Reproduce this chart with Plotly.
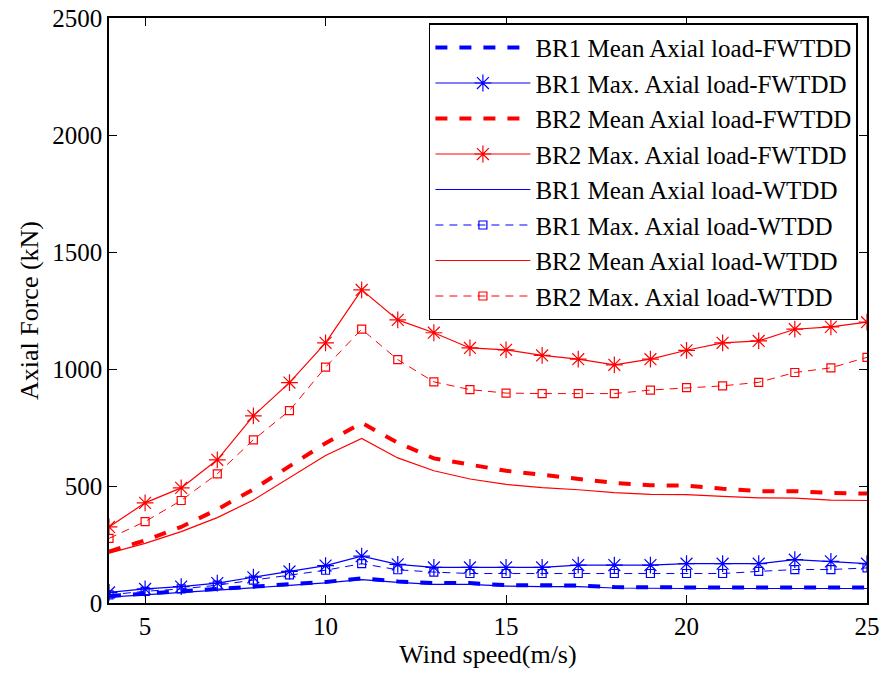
import plotly.graph_objects as go

wind_speed = list(range(4, 26))

br1_mean_fwtdd = [30, 40, 48, 56, 70, 80, 90, 105, 92, 85, 85, 76, 75, 75, 68, 66, 66, 66, 66, 66, 66, 66]
br1_max_fwtdd = [45, 60, 70, 85, 110, 135, 160, 200, 165, 152, 152, 152, 152, 162, 162, 162, 168, 168, 168, 185, 178, 168]
br2_mean_fwtdd = [220, 268, 325, 400, 486, 582, 683, 770, 685, 618, 590, 565, 548, 532, 513, 503, 502, 488, 478, 478, 470, 468]
br2_max_fwtdd = [325, 428, 492, 612, 800, 942, 1112, 1338, 1210, 1155, 1090, 1082, 1058, 1042, 1018, 1042, 1080, 1112, 1120, 1170, 1180, 1200]
br1_mean_wtdd = [25, 35, 43, 52, 65, 75, 86, 100, 88, 80, 80, 72, 70, 70, 64, 62, 62, 62, 62, 62, 62, 62]
br1_max_wtdd = [35, 50, 60, 76, 98, 120, 140, 168, 142, 132, 126, 126, 126, 126, 126, 126, 126, 126, 135, 143, 143, 150]
br2_mean_wtdd = [213, 255, 305, 365, 440, 535, 630, 703, 620, 565, 530, 507, 493, 484, 472, 464, 463, 456, 449, 448, 440, 438]
br2_max_wtdd = [276, 348, 438, 552, 697, 822, 1008, 1170, 1040, 945, 912, 897, 895, 895, 895, 910, 920, 928, 943, 985, 1005, 1050]

BLUE = "#0000ff"
RED = "#ff0000"

series = [
    ("BR1 Mean Axial load-FWTDD", br1_mean_fwtdd, BLUE, 4, "dash", None, 0),
    ("BR1 Max. Axial load-FWTDD", br1_max_fwtdd, BLUE, 1.2, "solid", "asterisk-open", 14),
    ("BR2 Mean Axial load-FWTDD", br2_mean_fwtdd, RED, 4, "dash", None, 0),
    ("BR2 Max. Axial load-FWTDD", br2_max_fwtdd, RED, 1.2, "solid", "asterisk-open", 14),
    ("BR1 Mean Axial load-WTDD", br1_mean_wtdd, BLUE, 1.2, "solid", None, 0),
    ("BR1 Max. Axial load-WTDD", br1_max_wtdd, BLUE, 1.0, "8px,6px", "square-open", 8),
    ("BR2 Mean Axial load-WTDD", br2_mean_wtdd, RED, 1.2, "solid", None, 0),
    ("BR2 Max. Axial load-WTDD", br2_max_wtdd, RED, 1.0, "8px,6px", "square-open", 8),
]

fig = go.Figure()
for name, vals, color, width, dash, symbol, size in series:
    mode = "lines+markers" if symbol else "lines"
    kw = dict(marker=dict(symbol=symbol, size=size, color=color,
                          line=dict(color=color, width=1.2))) if symbol else {}
    fig.add_trace(go.Scatter(
        x=wind_speed, y=vals, name=name, mode=mode,
        line=dict(color=color, width=width, dash=dash),
        **kw,
    ))

font_family = "Liberation Serif, Times New Roman, serif"

fig.update_layout(
    width=881, height=675,
    margin=dict(l=109, r=14, t=18, b=72),
    paper_bgcolor="white", plot_bgcolor="white",
    font=dict(family=font_family, size=24, color="black"),
    showlegend=True,
    legend=dict(
        x=0.988, y=0.991, xanchor="right", yanchor="top",
        bgcolor="white", bordercolor="black", borderwidth=1.5,
        font=dict(family=font_family, size=25, color="black"),
        itemwidth=95, tracegroupgap=0,
    ),
    xaxis=dict(
        range=[4, 25], tickvals=[5, 10, 15, 20, 25],
        ticks="inside", ticklen=8, tickwidth=1, tickcolor="black",
        showline=True, linecolor="black", linewidth=1.5, mirror="ticks",
        showgrid=False, zeroline=False, automargin=False,
        title=dict(text="Wind speed(m/s)", font=dict(size=26), standoff=6),
        tickfont=dict(size=25),
    ),
    yaxis=dict(
        range=[0, 2500], tickvals=[0, 500, 1000, 1500, 2000, 2500],
        ticks="inside", ticklen=8, tickwidth=1, tickcolor="black",
        showline=True, linecolor="black", linewidth=1.5, mirror="ticks",
        showgrid=False, zeroline=False, automargin=False,
        title=dict(text="Axial Force (kN)", font=dict(size=26), standoff=6),
        tickfont=dict(size=25),
    ),
)

fig.write_html("out.html")
